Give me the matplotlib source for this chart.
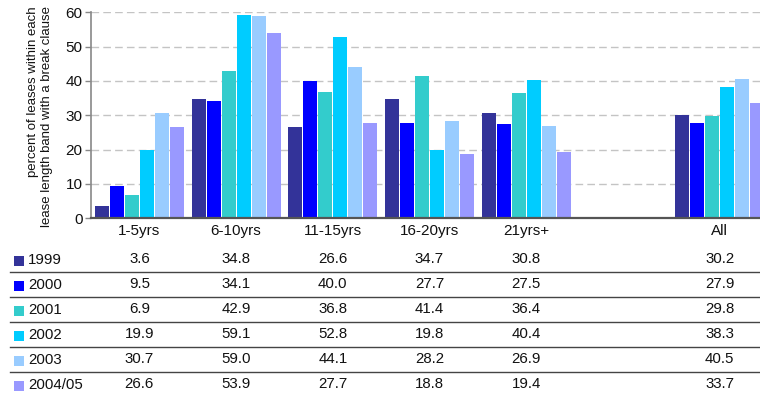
import numpy as np
import matplotlib.pyplot as plt
from matplotlib.patches import Rectangle

plt.rcParams['font.family'] = ['Liberation Sans', 'DejaVu Sans']

# Lease length bands and survey years
bands = ['1-5yrs', '6-10yrs', '11-15yrs', '16-20yrs', '21yrs+', 'All']
years = ['1999', '2000', '2001', '2002', '2003', '2004/05']

v1999 = [3.6, 34.8, 26.6, 34.7, 30.8, 30.2]
v2000 = [9.5, 34.1, 40.0, 27.7, 27.5, 27.9]
v2001 = [6.9, 42.9, 36.8, 41.4, 36.4, 29.8]
v2002 = [19.9, 59.1, 52.8, 19.8, 40.4, 38.3]
v2003 = [30.7, 59.0, 44.1, 28.2, 26.9, 40.5]
v2004 = [26.6, 53.9, 27.7, 18.8, 19.4, 33.7]
series = [v1999, v2000, v2001, v2002, v2003, v2004]

colors = ['#333399', '#0000ff', '#33cccc', '#00ccff', '#99ccff', '#9999ff']

W, H = 760, 394
fig = plt.figure(figsize=(W / 100, H / 100), dpi=100)

# chart area in pixels: x 91..768, y 12..218 (runs past the right edge)
ax = fig.add_axes([91 / W, (H - 218.3) / H, 677 / W, 206 / H])

# one empty slot between the bands and the overall figure
xpos = np.r_[np.arange(5), 6]
pitch = 0.155
for i, vals in enumerate(series):
    offs = (i - 2.5) * pitch
    ax.bar(xpos + offs, vals, width=pitch - 0.011, color=colors[i],
           edgecolor='none', zorder=3)

ax.set_xlim(-0.5, 6.5)
ax.set_ylim(0, 60)
ax.set_yticks(np.arange(0, 61, 10))
ax.set_xticks(xpos)
ax.set_xticklabels(bands)
ax.tick_params(axis='x', length=0, pad=4, labelsize=11, labelcolor='#111111')
ax.tick_params(axis='y', length=4, width=1, color='#888888', labelsize=11,
               labelcolor='#111111', pad=2)
ax.yaxis.grid(True, color='#c4c4c4', linewidth=1, dashes=(5.5, 3))
ax.set_axisbelow(True)
for s in ['top', 'right']:
    ax.spines[s].set_visible(False)
ax.spines['left'].set_color('#888888')
ax.spines['left'].set_linewidth(1.2)
ax.spines['bottom'].set_color('#555555')
ax.spines['bottom'].set_linewidth(1.6)
ax.spines['bottom'].set_zorder(4)

fig.text(40 / W, 1 - 6 / H,
         'percent of leases within each\nlease length band with a break clause',
         rotation=90, ha='center', va='top', multialignment='right',
         fontsize=9.5, color='#111111', linespacing=1.15)

# data table under the chart, sharing the category positions
tab = fig.add_axes([91 / W, (H - 396.5) / H, 677 / W, 150 / H], sharex=ax)
tab.set_ylim(len(years), 0)
tab.axis('off')
for r, (yr, vals) in enumerate(zip(years, series)):
    yc = r + 0.5
    for x, v in zip(xpos, vals):
        tab.text(x, yc, f'{v:.1f}', ha='center', va='center',
                 fontsize=10.8, color='#111111', clip_on=False)
    tab.add_patch(Rectangle((-77 / 677, yc - 0.12), 10 / 677, 0.4,
                            transform=tab.get_yaxis_transform(),
                            facecolor=colors[r], edgecolor='none',
                            clip_on=False))
    tab.text(-63 / 677, yc + 0.05, yr, transform=tab.get_yaxis_transform(),
             ha='left', va='center', fontsize=10.8, color='#111111',
             clip_on=False)
    if r < len(years) - 1:
        tab.axhline(r + 1, xmin=-81 / 677, xmax=1, color='#444444',
                    linewidth=1, clip_on=False)

fig.savefig('out.png', dpi=100)
